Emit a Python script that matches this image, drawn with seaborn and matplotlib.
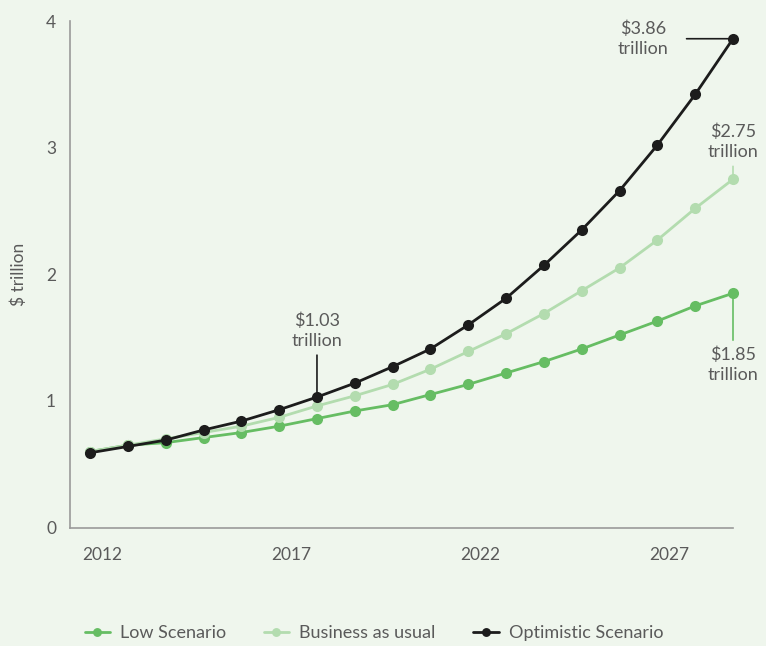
import matplotlib
matplotlib.use("Agg")
import matplotlib.pyplot as plt
import seaborn as sns
import pandas as pd

# Global investment outlook, $ trillion per year
years = list(range(2012, 2030))
low_scenario = [0.60, 0.65, 0.67, 0.71, 0.75, 0.80, 0.86, 0.92, 0.97, 1.05,
                1.13, 1.22, 1.31, 1.41, 1.52, 1.63, 1.75, 1.85]
business_as_usual = [0.60, 0.65, 0.70, 0.75, 0.80, 0.87, 0.96, 1.04, 1.13, 1.25,
                     1.39, 1.53, 1.69, 1.87, 2.05, 2.27, 2.52, 2.75]
optimistic = [0.59, 0.64, 0.69, 0.77, 0.84, 0.93, 1.03, 1.14, 1.27, 1.41,
              1.60, 1.81, 2.07, 2.35, 2.66, 3.02, 3.42, 3.86]
series_names = ["Low Scenario", "Business as usual", "Optimistic Scenario"]
tick_years = [2012, 2017, 2022, 2027]
y_ticks = [0, 1, 2, 3, 4]

BG = "#eff6ed"
GREEN = "#66bd63"
LIGHT = "#b3dcaf"
DARK = "#1c1c1c"
TEXT = "#5a5a5a"

sns.set_theme(style="white")
plt.rcParams["font.family"] = ["Lato", "DejaVu Sans"]

df = pd.DataFrame({
    "year": years * 3,
    "value": low_scenario + business_as_usual + optimistic,
    "scenario": sum([[n] * len(years) for n in series_names], []),
})

fig = plt.figure(figsize=(7.66, 6.46), dpi=100, facecolor=BG)
ax = fig.add_axes([70 / 766, 1 - 527.5 / 646, (733 - 70) / 766, (527.5 - 21) / 646])
ax.set_facecolor(BG)

palette = {series_names[0]: GREEN, series_names[1]: LIGHT, series_names[2]: DARK}
for name in series_names:
    sub = df[df["scenario"] == name]
    sns.lineplot(data=sub, x="year", y="value", ax=ax, color=palette[name],
                 linewidth=2, marker="o", markersize=8, markeredgewidth=0,
                 clip_on=False, label=name, legend=False)

ax.set_xlim(2011.47, 2029)
ax.set_ylim(0, 4)
ax.set_xticks([y + 0.32 for y in tick_years])
ax.set_xticklabels([str(y) for y in tick_years])
ax.set_yticks(y_ticks)
ax.set_yticklabels([str(v) for v in y_ticks])
ax.tick_params(axis="x", length=0, pad=14, labelsize=12.5, labelcolor=TEXT)
ax.tick_params(axis="y", length=0, pad=10, labelsize=12.5, labelcolor=TEXT)
ax.set_xlabel("")
ax.set_ylabel("$ trillion", fontsize=12.5, color=TEXT, labelpad=14)

for side in ["top", "right"]:
    ax.spines[side].set_visible(False)
for side in ["left", "bottom"]:
    ax.spines[side].set_color("#9a9a9a")
    ax.spines[side].set_linewidth(1.2)

# Value call-outs
def callout(x, y, text, color, offset, relpos, ha, va, shrink_a=2):
    ax.annotate(text, xy=(x, y), xytext=offset, textcoords="offset pixels",
                ha=ha, va=va, multialignment="center", fontsize=13, color=TEXT,
                linespacing=1.3,
                arrowprops=dict(arrowstyle="-", color=color, lw=1.2,
                                relpos=relpos, shrinkA=shrink_a, shrinkB=0))

callout(years[-1], optimistic[-1], f"${optimistic[-1]:.2f}\ntrillion", DARK,
        (-65, 0), (1, 0.5), "right", "center", shrink_a=11)
callout(years[-1], business_as_usual[-1], f"${business_as_usual[-1]:.2f}\ntrillion", LIGHT,
        (0, 19), (0.5, 0), "center", "bottom", shrink_a=2)
callout(years[6], optimistic[6], f"${optimistic[6]:.2f}\ntrillion", DARK,
        (0, 48), (0.5, 0), "center", "bottom", shrink_a=2)
callout(years[-1], low_scenario[-1], f"${low_scenario[-1]:.2f}\ntrillion", GREEN,
        (0, -53), (0.5, 1), "center", "top", shrink_a=2)

handles, labels = ax.get_legend_handles_labels()
leg = fig.legend(handles, labels, loc="lower center", ncol=3, frameon=False,
                 bbox_to_anchor=(0.488, -0.018), fontsize=13, handlelength=1.4,
                 columnspacing=2.1, handletextpad=0.55, markerscale=0.8)
for t in leg.get_texts():
    t.set_color(TEXT)

fig.savefig("out.png", dpi=100, facecolor=BG)
